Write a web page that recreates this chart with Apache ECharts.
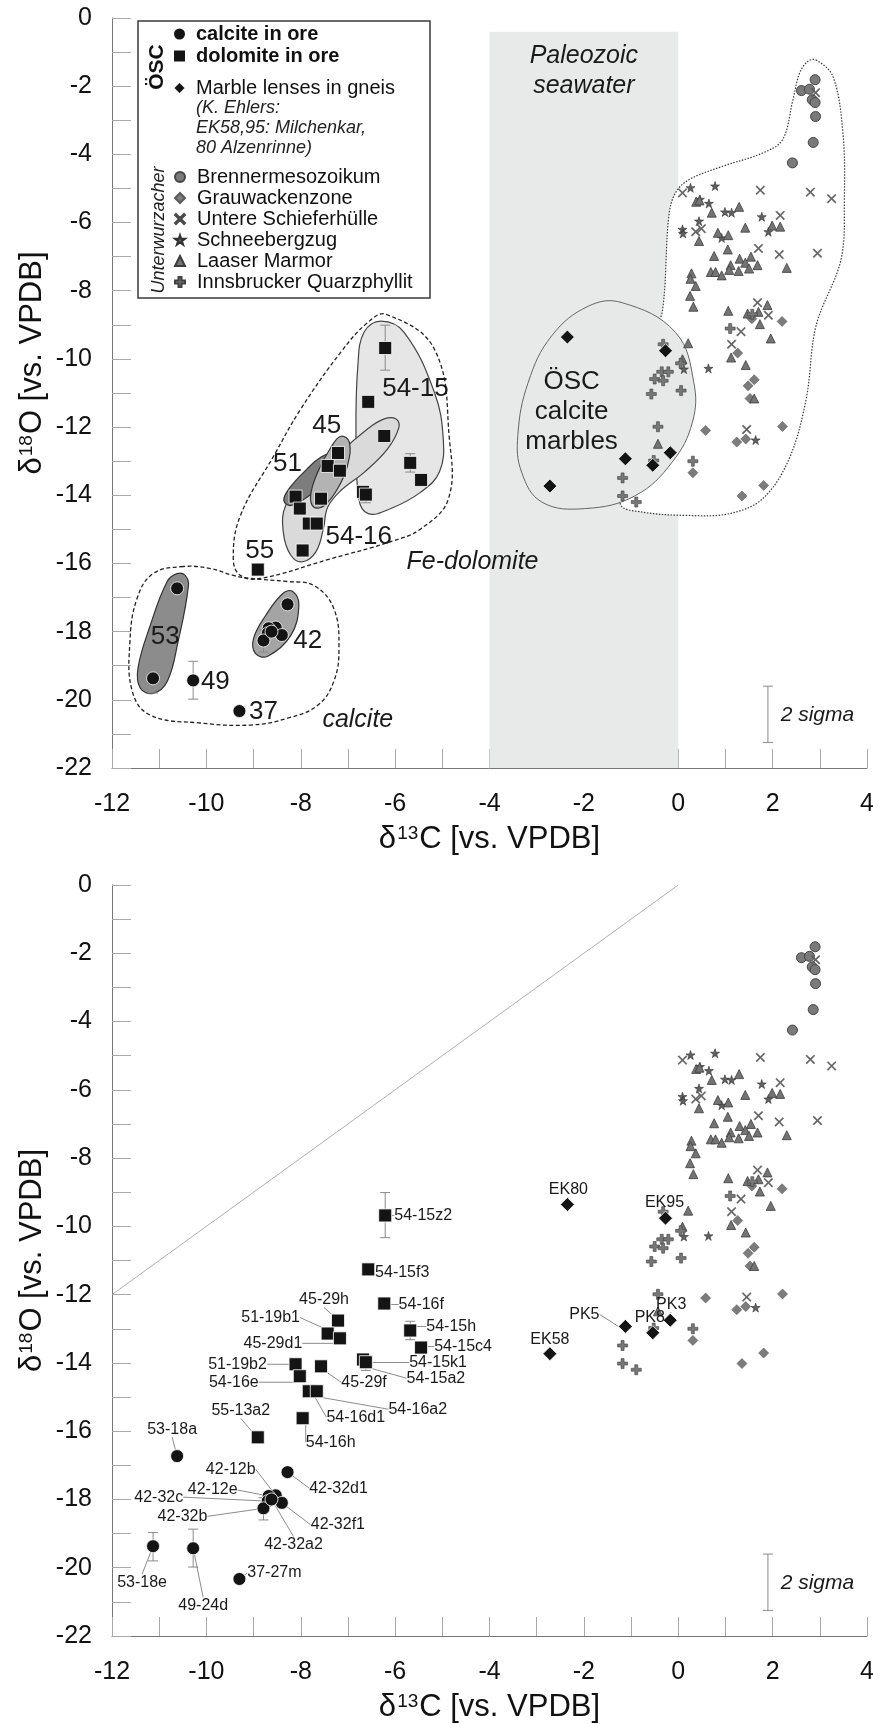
<!DOCTYPE html>
<html>
<head>
<meta charset="utf-8">
<script src="https://cdn.jsdelivr.net/npm/echarts@6.0.0/dist/echarts.min.js"></script>
<style>
  html, body { margin: 0; padding: 0; background: #fff; }
  #chart { width: 873px; height: 1724px; }
</style>
</head>
<body>
<div id="chart"></div>
<script>
const FONT = '"Liberation Sans", Arial, Helvetica, sans-serif';

// axis ranges (δ13C on x, δ18O on y)
const xRange = [-12, 4, 2];
const yRange = [-22, 0, 2];

// ÖSC samples: [sample, δ13C, δ18O]
const calciteOre = [
  ['53-18a', -10.62, -16.73], ['53-18e', -11.13, -19.37], ['49-24d', -10.28, -19.43],
  ['37-27m', -9.30, -20.33], ['42-32d1', -8.28, -17.20], ['42-12b', -8.53, -17.88],
  ['42-12e', -8.68, -17.90], ['42-32c', -8.70, -18.05], ['42-32b', -8.79, -18.26],
  ['42-32f1', -8.40, -18.10], ['42-32a2', -8.62, -18.00]
];
const dolomiteOre = [
  ['54-15z2', -6.21, -9.68], ['54-15f3', -6.57, -11.26], ['54-16f', -6.23, -12.26],
  ['54-15h', -5.68, -13.05], ['54-15c4', -5.45, -13.55], ['54-15k1', -6.68, -13.90],
  ['54-15a2', -6.62, -13.98], ['45-29h', -7.21, -12.76], ['51-19b1', -7.43, -13.14],
  ['45-29d1', -7.17, -13.28], ['51-19b2', -8.11, -14.04], ['54-16e', -8.02, -14.39],
  ['45-29f', -7.57, -14.10], ['54-16d1', -7.83, -14.83], ['54-16a2', -7.66, -14.83],
  ['54-16h', -7.96, -15.62], ['55-13a2', -8.91, -16.18]
];
const marbleLenses = [
  ['EK80', -2.35, -9.36], ['EK95', -0.27, -9.76], ['PK5', -1.12, -12.93],
  ['PK8', -0.54, -13.12], ['PK3', -0.17, -12.75], ['EK58', -2.72, -13.73]
];

// Unterwurzacher reference data: [δ13C, δ18O]
const brenner = [[2.90, -1.81], [2.61, -2.13], [2.78, -2.09], [2.84, -2.40], [2.90, -2.48], [2.91, -2.89], [2.86, -3.65], [2.42, -4.25]];
const grauwacke = [[2.20, -8.90], [1.56, -8.82], [1.26, -9.83], [1.61, -10.61], [1.48, -10.79], [1.52, -11.16], [0.58, -12.10],
  [2.21, -11.98], [1.43, -12.35], [1.24, -12.44], [0.31, -13.34], [1.81, -13.71], [1.35, -14.02]];
const schieferhuelle = [[2.91, -2.19], [0.09, -5.13], [1.74, -5.05], [2.80, -5.11], [3.25, -5.30], [2.16, -5.79], [0.37, -6.27],
  [0.49, -6.18], [1.70, -6.76], [2.14, -6.94], [2.95, -6.90], [1.68, -8.35], [1.91, -8.72], [1.33, -9.20], [1.13, -9.57], [1.45, -12.07]];
const schneeberg = [[0.26, -4.98], [0.78, -4.93], [0.46, -5.32], [0.65, -5.44], [0.99, -5.69], [1.13, -5.71], [1.77, -5.83],
  [0.44, -5.96], [0.09, -6.20], [0.10, -6.32], [0.92, -6.45], [1.91, -6.27], [0.64, -10.28], [1.64, -12.38], [0.12, -10.30]];
const laaser = [[0.38, -5.39], [0.45, -5.35], [0.71, -5.71], [1.29, -5.54], [1.42, -6.15], [1.99, -6.09], [2.16, -6.12],
  [0.44, -6.54], [0.84, -6.30], [1.06, -6.37], [1.05, -6.79], [0.76, -6.98], [1.30, -7.06], [1.54, -7.00], [1.42, -7.18],
  [1.11, -7.25], [1.68, -7.25], [1.50, -7.35], [1.08, -7.39], [1.28, -7.42], [2.30, -7.33], [0.69, -7.45], [0.79, -7.45],
  [0.92, -7.55], [0.28, -7.49], [0.26, -7.65], [0.37, -7.86], [0.25, -8.15], [0.32, -8.47], [1.06, -8.59], [1.47, -8.67],
  [1.70, -8.62], [1.89, -8.42], [1.73, -8.98], [1.96, -9.40], [1.12, -9.96], [1.43, -10.18], [0.21, -9.54], [0.09, -10.01],
  [1.61, -11.16], [-0.43, -12.49]];
const innsbruck = [[1.57, -8.69], [1.10, -9.11], [-0.32, -9.57], [0.05, -10.13], [-0.35, -10.38], [-0.21, -10.38], [-0.50, -10.59],
  [-0.32, -10.64], [-0.57, -11.03], [0.06, -10.93], [-0.43, -11.99], [-0.52, -12.98], [-1.18, -13.49], [-1.18, -14.02],
  [-0.89, -14.20], [0.31, -13.00]];

// analytical uncertainty: [δ13C, low δ18O, high δ18O]
const errorBars = [[-6.21, -10.33, -9.01], [-5.68, -13.32, -12.78], [-11.13, -19.80, -18.97],
  [-10.28, -19.98, -18.87], [-8.79, -18.60, -17.95], [-6.62, -14.22, -13.80]];
const twoSigma = [[1.9, -21.25, -19.6]];

// field outlines in data units (δ13C, δ18O)
const seawaterBand = [[-4, -0.4], [0, -0.4], [0, -22], [-4, -22]];
const unterwurzacherHull = [[2.92, -1.23], [3.28, -1.72], [3.49, -3.37], [3.52, -5.32], [3.45, -7.08], [2.92, -9.03], [2.71, -11.18],
  [2.35, -12.93], [1.79, -14.10], [1.08, -14.54], [0.16, -14.59], [-0.77, -14.49], [-1.23, -14.25], [-1.30, -11.76], [-0.55, -9.13],
  [-0.34, -8.64], [-0.20, -5.81], [-0.06, -5.13], [0.23, -4.74], [0.94, -4.35], [1.79, -3.96], [2.21, -3.57], [2.43, -2.40],
  [2.57, -1.62], [2.74, -1.28]];
const oscMarbleHull = [[-1.19, -8.35], [-0.06, -9.22], [0.33, -10.69], [0.30, -11.86], [-0.13, -13.03], [-0.91, -14.01],
  [-1.97, -14.39], [-2.89, -14.20], [-3.32, -13.32], [-3.40, -12.25], [-3.18, -10.69], [-2.68, -9.32], [-1.90, -8.45]];
const feDolomiteHull = [[-6.19, -8.69], [-5.17, -9.71], [-4.85, -12.35], [-4.87, -14.10], [-5.45, -14.98], [-6.09, -15.36],
  [-7.36, -15.86], [-8.85, -16.44], [-9.28, -16.35], [-9.43, -15.86], [-9.28, -14.60], [-8.57, -12.84], [-8.00, -11.47],
  [-7.15, -9.80], [-6.57, -8.92]];
const calciteHull = [[-10.49, -16.09], [-11.13, -16.30], [-11.47, -17.03], [-11.62, -18.29], [-11.57, -19.75], [-11.19, -20.45],
  [-10.13, -20.68], [-9.06, -20.74], [-8.28, -20.54], [-7.64, -20.16], [-7.30, -19.46], [-7.19, -18.49], [-7.30, -17.32],
  [-7.72, -16.65], [-8.28, -16.53], [-9.06, -16.44], [-9.43, -16.35], [-9.91, -16.15]];
const group53 = [[-10.45, -16.35], [-10.38, -16.65], [-10.60, -18.29], [-10.83, -19.46], [-11.13, -19.81], [-11.40, -19.66],
  [-11.45, -19.08], [-11.19, -17.82], [-10.83, -16.53], [-10.62, -16.30]];
const group42 = [[-8.17, -16.82], [-8.04, -17.23], [-8.21, -18.11], [-8.70, -18.72], [-8.96, -18.64], [-9.00, -18.20],
  [-8.74, -17.52], [-8.38, -16.88]];
const group5415 = [[-6.30, -8.89], [-5.81, -9.22], [-5.17, -10.97], [-4.98, -12.35], [-5.06, -13.31], [-5.45, -13.90],
  [-6.09, -14.39], [-6.57, -14.54], [-6.77, -14.10], [-6.83, -12.14], [-6.79, -10.21], [-6.66, -9.22]];
const group5416 = [[-5.98, -11.76], [-5.92, -12.01], [-6.16, -12.64], [-6.65, -13.32], [-7.15, -13.86], [-7.43, -14.35],
  [-7.52, -14.98], [-7.68, -15.66], [-7.96, -15.95], [-8.21, -15.76], [-8.37, -15.08], [-8.32, -14.30], [-8.00, -13.91],
  [-7.64, -13.52], [-7.15, -12.74], [-6.58, -12.05], [-6.23, -11.76]];
const group51 = [[-7.36, -12.79], [-7.26, -13.03], [-7.43, -13.52], [-7.86, -14.05], [-8.21, -14.30], [-8.36, -14.15],
  [-8.25, -13.81], [-7.86, -13.22], [-7.57, -12.88]];
const group45 = [[-7.15, -12.27], [-6.97, -12.44], [-7.01, -13.13], [-7.22, -13.81], [-7.50, -14.30], [-7.72, -14.35],
  [-7.79, -14.00], [-7.64, -13.32], [-7.36, -12.59]];

// annotation texts: [text, δ13C, δ18O]
const groupLabels = [['54-15', -5.57, -10.88], ['45', -7.45, -11.97], ['51', -8.28, -13.08], ['55', -8.87, -15.62],
  ['54-16', -6.77, -15.21], ['53', -10.87, -18.14], ['42', -7.85, -18.26], ['49', -9.81, -19.46], ['37', -8.79, -20.36],
  ['ÖSC\ncalcite\nmarbles', -2.26, -11.56]];
const fieldLabels = [['Fe-dolomite', -4.36, -15.95], ['calcite', -6.79, -20.6], ['Paleozoic\nseawater', -2.0, -1.55]];
const sigmaLabel = [['2 sigma', 2.17, -20.45]];

// where each sample label sits relative to its symbol (px)
const labelOffsets = {
  '54-15z2': [38, 0], '54-15f3': [34, 3], '54-16f': [37, 1], '54-15h': [41, -4], '54-15c4': [42, -1],
  '54-15k1': [75, 3], '54-15a2': [70, 16], '45-29h': [-14, -21], '51-19b1': [-57, -16], '45-29d1': [-67, 5],
  '51-19b2': [-58, 0], '54-16e': [-66, 6], '45-29f': [43, 16], '54-16a2': [101, 18], '54-16d1': [47, 26],
  '54-16h': [28, 24], '55-13a2': [-17, -27], '53-18a': [-5, -27], '42-12b': [-45, -26], '42-12e': [-56, -6],
  '42-32c': [-109, -4], '42-32b': [-81, 8], '42-32d1': [51, 16], '42-32f1': [56, 22], '42-32a2': [22, 45],
  '53-18e': [-11, 36], '49-24d': [10, 57], '37-27m': [35, -6],
  'EK80': [1, -15], 'EK95': [-1, -16], 'PK5': [-41, -12], 'PK8': [-3, -15], 'PK3': [1, -16], 'EK58': [0, -14]
};

const crossPath = 'path://M1,0L5,4L9,0L10,1L6,5L10,9L9,10L5,6L1,10L0,9L4,5L0,1Z';
const plusPath = 'path://M3.5,0H6.5V3.5H10V6.5H6.5V10H3.5V6.5H0V3.5H3.5Z';
const starPath = 'path://M5,0L6.2,3.6L10,3.6L6.9,5.9L8.1,9.5L5,7.3L1.9,9.5L3.1,5.9L0,3.6L3.8,3.6Z';

const chart = echarts.init(document.getElementById('chart'));

function shapeSeries(pts, style, gi, z, smooth) {
  return {
    type: 'custom', xAxisIndex: gi, yAxisIndex: gi, z: z, silent: true,
    data: [pts[0]],
    renderItem: function (params, api) {
      return {
        type: 'polygon',
        shape: { points: pts.map(p => api.coord(p)), smooth: smooth == null ? 0.4 : smooth },
        style: style
      };
    }
  };
}

function textSeries(list, gi, font, z, align) {
  return {
    type: 'custom', xAxisIndex: gi, yAxisIndex: gi, z: z, silent: true,
    data: list.map(d => [d[1], d[2]]),
    renderItem: function (params, api) {
      const p = api.coord([api.value(0), api.value(1)]);
      return {
        type: 'text', x: p[0], y: p[1],
        style: { text: list[params.dataIndex][0], font: font, fill: '#1a1a1a',
          align: align || 'center', verticalAlign: 'middle', lineHeight: 30 }
      };
    }
  };
}

function errorSeries(data, gi) {
  return {
    type: 'custom', xAxisIndex: gi, yAxisIndex: gi, z: 9, silent: true,
    encode: { x: 0, y: [1, 2] },
    data: data,
    renderItem: function (params, api) {
      const a = api.coord([api.value(0), api.value(1)]);
      const b = api.coord([api.value(0), api.value(2)]);
      const st = { stroke: '#8a8a8a', lineWidth: 1 };
      return {
        type: 'group', children: [
          { type: 'line', shape: { x1: a[0], y1: a[1], x2: b[0], y2: b[1] }, style: st },
          { type: 'line', shape: { x1: a[0] - 5, y1: a[1], x2: a[0] + 5, y2: a[1] }, style: st },
          { type: 'line', shape: { x1: b[0] - 5, y1: b[1], x2: b[0] + 5, y2: b[1] }, style: st }
        ]
      };
    }
  };
}

const blackStyle = { color: '#141414', borderColor: '#ffffff', borderWidth: 0.8, opacity: 1 };
const refStyles = {
  'Brennermesozoikum': { symbol: 'circle', size: 10, style: { color: '#7a7a7a', borderColor: '#454545', borderWidth: 1, opacity: 1 }, data: brenner },
  'Grauwackenzone': { symbol: 'diamond', size: 10, style: { color: '#7c7c7c', borderColor: '#5a5a5a', borderWidth: 0.6, opacity: 1 }, data: grauwacke },
  'Untere Schieferhülle': { symbol: crossPath, size: 9, style: { color: '#636363', borderColor: '#4a4a4a', borderWidth: 0.4, opacity: 1 }, data: schieferhuelle },
  'Schneebergzug': { symbol: starPath, size: 9, style: { color: '#606060', borderColor: '#303030', borderWidth: 0.6, opacity: 1 }, data: schneeberg },
  'Laaser Marmor': { symbol: 'triangle', size: 9, style: { color: '#747474', borderColor: '#3c3c3c', borderWidth: 0.8, opacity: 1 }, data: laaser },
  'Innsbrucker Quarzphyllit': { symbol: plusPath, size: 10, style: { color: '#777777', borderColor: '#404040', borderWidth: 0.6, opacity: 1 }, data: innsbruck }
};

function sampleSeries(name, list, symbol, size, gi, labelled) {
  const s = {
    type: 'scatter', name: name, xAxisIndex: gi, yAxisIndex: gi, z: 11,
    symbol: symbol, symbolSize: size, itemStyle: blackStyle,
    emphasis: { disabled: true },
    data: list.map(d => ({ name: d[0], value: [d[1], d[2]] }))
  };
  if (labelled) {
    s.label = { show: true, position: 'inside', formatter: '{b}', color: '#1a1a1a',
      fontSize: 16, fontFamily: FONT, textBorderWidth: 0 };
    s.labelLine = { show: true, lineStyle: { color: '#5a5a5a', width: 0.7 } };
    s.labelLayout = function (p) {
      const o = labelOffsets[p.text] || [0, 0];
      return { dx: o[0], dy: o[1] };
    };
  }
  return s;
}

function refSeries(gi) {
  return Object.keys(refStyles).map(name => {
    const r = refStyles[name];
    return { type: 'scatter', name: name, xAxisIndex: gi, yAxisIndex: gi, z: 10,
      symbol: r.symbol, symbolSize: r.size, itemStyle: r.style, emphasis: { disabled: true }, data: r.data };
  });
}

const nameRich = {
  d: { fontSize: 31, fontFamily: FONT, color: '#111' },
  s: { fontSize: 19, fontFamily: FONT, color: '#111', verticalAlign: 'top', padding: [0, 1, 0, 1] }
};
const tickStyle = { color: '#a9a9a9', width: 1 };

function xAxisCfg(gi) {
  return {
    type: 'value', gridIndex: gi, min: xRange[0], max: xRange[1], interval: xRange[2],
    name: '{d|δ}{s|13}{d|C [vs. VPDB]}', nameLocation: 'middle', nameGap: 56, nameMoveOverlap: false,
    nameTextStyle: { rich: nameRich },
    axisLine: { show: true, onZero: false, lineStyle: { color: '#777', width: 1 } },
    axisTick: { show: true, inside: true, length: 19, lineStyle: tickStyle },
    minorTick: { show: true, splitNumber: 2, length: 19, lineStyle: tickStyle },
    axisLabel: { color: '#111', fontSize: 25, fontFamily: FONT, margin: 24 },
    splitLine: { show: false }, minorSplitLine: { show: false }
  };
}
function yAxisCfg(gi, pad) {
  return {
    type: 'value', gridIndex: gi, min: yRange[0], max: yRange[1], interval: yRange[2],
    name: '{d|δ}{s|18}{d|O [vs. VPDB]}', nameLocation: 'middle', nameGap: 64, nameRotate: 90, nameMoveOverlap: false,
    nameTextStyle: { rich: nameRich, padding: pad },
    axisLine: { show: true, onZero: false, lineStyle: { color: '#777', width: 1 } },
    axisTick: { show: true, inside: true, length: 19, lineStyle: tickStyle },
    minorTick: { show: true, splitNumber: 2, length: 19, lineStyle: tickStyle },
    axisLabel: { color: '#111', fontSize: 25, fontFamily: FONT, margin: 20 },
    splitLine: { show: false }, minorSplitLine: { show: false }
  };
}

const series = [
  // top chart: fields
  shapeSeries(seawaterBand, { fill: '#e8e9e9' }, 0, 1, 0),
  shapeSeries(unterwurzacherHull, { fill: '#ffffff', stroke: '#3a3a3a', lineWidth: 1.2, lineDash: [1.5, 1.5] }, 0, 2, 0.35),
  shapeSeries(oscMarbleHull, { fill: '#e7e8e8', stroke: '#666', lineWidth: 1 }, 0, 3),
  shapeSeries(feDolomiteHull, { fill: 'none', stroke: '#222', lineWidth: 1.3, lineDash: [4, 2.5] }, 0, 4),
  shapeSeries(calciteHull, { fill: 'none', stroke: '#222', lineWidth: 1.3, lineDash: [4, 2.5] }, 0, 4),
  shapeSeries(group53, { fill: '#8c8c8c', stroke: '#333', lineWidth: 1.2 }, 0, 5),
  shapeSeries(group42, { fill: '#a4a4a4', stroke: '#333', lineWidth: 1.2 }, 0, 5),
  shapeSeries(group5415, { fill: '#e6e6e6', stroke: '#444', lineWidth: 1.2 }, 0, 5),
  shapeSeries(group5416, { fill: '#dadada', stroke: '#444', lineWidth: 1.2 }, 0, 6),
  shapeSeries(group51, { fill: '#7d7d7d', stroke: '#333', lineWidth: 1.2 }, 0, 7),
  shapeSeries(group45, { fill: '#b3b3b3', stroke: '#333', lineWidth: 1.2 }, 0, 8),
  errorSeries(errorBars.concat(twoSigma), 0),
  ...refSeries(0),
  sampleSeries('calcite in ore', calciteOre, 'circle', 13, 0, false),
  sampleSeries('dolomite in ore', dolomiteOre, 'rect', 13, 0, false),
  sampleSeries('Marble lenses in gneis', marbleLenses, 'diamond', 14, 0, false),
  textSeries(groupLabels, 0, '26px ' + FONT, 12),
  textSeries(fieldLabels, 0, 'italic 25px ' + FONT, 12),
  textSeries(sigmaLabel, 0, 'italic 21px ' + FONT, 12, 'left'),
  // bottom chart
  { type: 'line', xAxisIndex: 1, yAxisIndex: 1, z: 1, silent: true, symbol: 'none',
    lineStyle: { color: '#9a9a9a', width: 0.8 }, data: [[-12, -12], [0, 0]] },
  errorSeries(errorBars.concat(twoSigma), 1),
  ...refSeries(1),
  sampleSeries('calcite in ore', calciteOre, 'circle', 13, 1, true),
  sampleSeries('dolomite in ore', dolomiteOre, 'rect', 13, 1, true),
  sampleSeries('Marble lenses in gneis', marbleLenses, 'diamond', 14, 1, true),
  textSeries(sigmaLabel, 1, 'italic 21px ' + FONT, 12, 'left')
];

const legendBase = { orient: 'vertical', selectedMode: false, padding: 0, z: 21, left: 172 };
const option = {
  animation: false,
  backgroundColor: '#fff',
  textStyle: { fontFamily: FONT },
  grid: [
    { left: 112, top: 18, width: 755, height: 750, outerBoundsMode: 'none', containLabel: false },
    { left: 112, top: 885, width: 755, height: 751, outerBoundsMode: 'none', containLabel: false }
  ],
  xAxis: [xAxisCfg(0), xAxisCfg(1)],
  yAxis: [yAxisCfg(0, [0, 0, 0, 60]), yAxisCfg(1, [0, 0, 0, 0])],
  legend: [
    Object.assign({}, legendBase, { top: 24, itemGap: 2, itemWidth: 13, itemHeight: 13,
      data: ['calcite in ore', 'dolomite in ore'],
      textStyle: { fontFamily: FONT, fontSize: 20, fontWeight: 'bold', color: '#111', padding: [0, 0, 0, 5] } }),
    Object.assign({}, legendBase, { top: 78, itemWidth: 13, itemHeight: 13,
      data: ['Marble lenses in gneis'],
      textStyle: { fontFamily: FONT, fontSize: 20, color: '#111', padding: [0, 0, 0, 5] } }),
    Object.assign({}, legendBase, { left: 174, top: 167, itemGap: 1, itemWidth: 10, itemHeight: 10,
      data: Object.keys(refStyles),
      textStyle: { fontFamily: FONT, fontSize: 20, color: '#111', padding: [0, 0, 0, 7] } })
  ],
  graphic: [
    { type: 'rect', z: 20, shape: { x: 138, y: 21, width: 292, height: 277 },
      style: { fill: '#fff', stroke: '#3a3a3a', lineWidth: 1.5 } },
    { type: 'text', z: 22, x: 196, y: 108, style: { text: '(K. Ehlers:', font: 'italic 18px ' + FONT, fill: '#222', verticalAlign: 'middle' } },
    { type: 'text', z: 22, x: 196, y: 128, style: { text: 'EK58,95: Milchenkar,', font: 'italic 18px ' + FONT, fill: '#222', verticalAlign: 'middle' } },
    { type: 'text', z: 22, x: 196, y: 148, style: { text: '80 Alzenrinne)', font: 'italic 18px ' + FONT, fill: '#222', verticalAlign: 'middle' } },
    { type: 'text', z: 22, x: 157, y: 67, rotation: Math.PI / 2,
      style: { text: 'ÖSC', font: 'bold 21px ' + FONT, fill: '#111', align: 'center', verticalAlign: 'middle' } },
    { type: 'text', z: 22, x: 159, y: 230, rotation: Math.PI / 2,
      style: { text: 'Unterwurzacher', font: 'italic 18px ' + FONT, fill: '#222', align: 'center', verticalAlign: 'middle' } }
  ],
  series: series
};

chart.setOption(option);
</script>
</body>
</html>
